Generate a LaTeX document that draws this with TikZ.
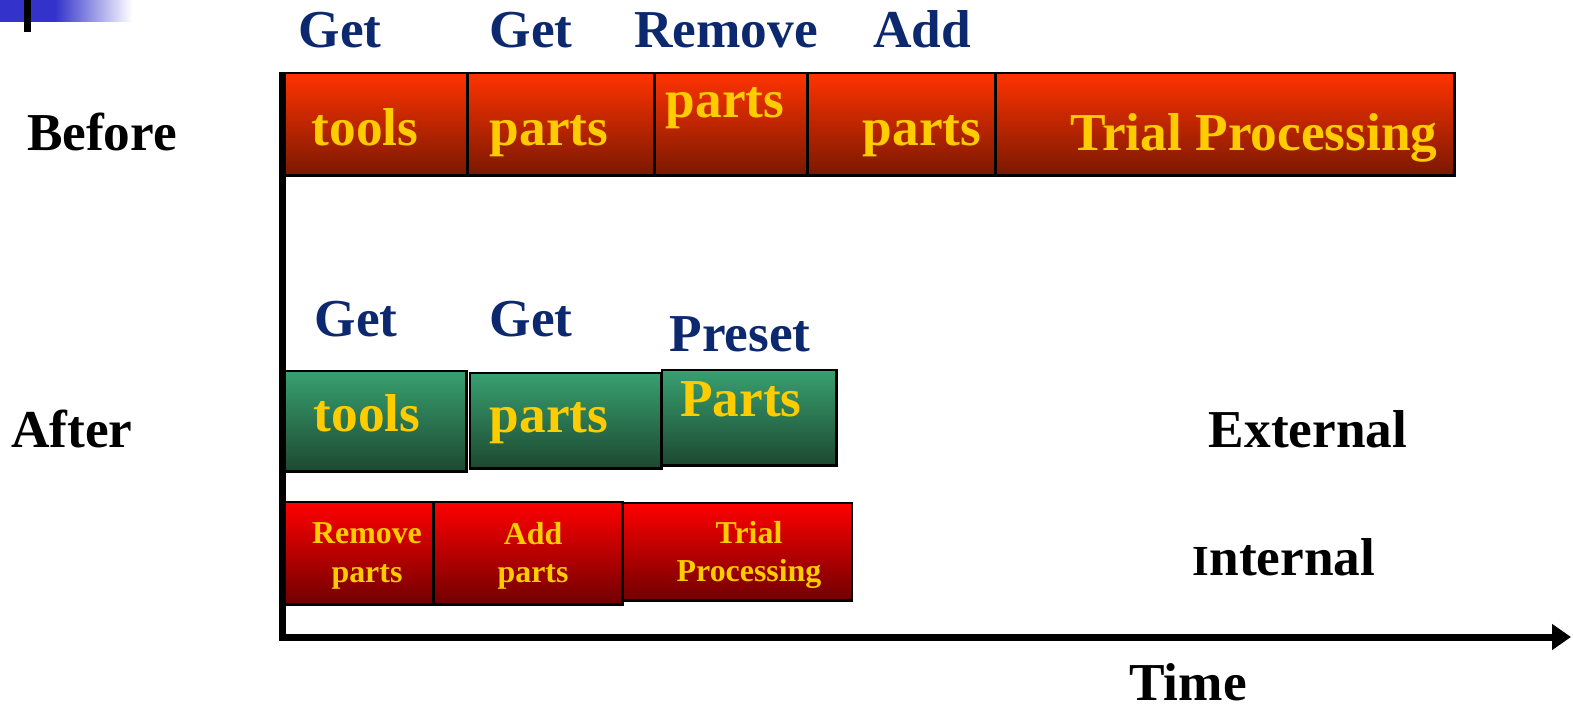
\documentclass[tikz,border=0pt]{standalone}
\usepackage{fontspec}
\setmainfont{Liberation Serif}
\usetikzlibrary{arrows.meta}
\definecolor{navy}{RGB}{12,40,110}
\definecolor{gold}{RGB}{255,204,0}
\definecolor{otop}{RGB}{255,51,0}
\definecolor{obot}{RGB}{122,24,0}
\definecolor{gtop}{RGB}{56,160,112}
\definecolor{gbot}{RGB}{28,72,48}
\definecolor{rtop}{RGB}{255,0,0}
\definecolor{rbot}{RGB}{112,0,0}
\definecolor{deco}{RGB}{51,51,204}
\tikzset{
  bar/.style={draw=black, line width=2.5bp, anchor=north west, inner sep=0pt, outer sep=0pt},
  before/.style={bar, top color=otop, bottom color=obot},
  extbox/.style={bar, top color=gtop, bottom color=gbot},
  intbox/.style={bar, top color=rtop, bottom color=rbot},
  big/.style={font=\fontsize{53.5}{53.5}\selectfont\bfseries, inner sep=0pt, anchor=base},
  small/.style={font=\fontsize{32}{38.5}\selectfont\bfseries, inner sep=0pt, align=center, text=gold},
  toplabel/.style={big, text=navy},
  intext/.style={big, text=gold},
  rowlabel/.style={big, text=black},
}
\newcommand{\boxat}[6]{\node[#1, minimum width=#4-#2, minimum height=#5-#3] (#6) at (#2,#3) {};}
\begin{document}
\begin{tikzpicture}[x=1bp,y=-1bp]
\useasboundingbox (0,0) rectangle (1573,709);
% decoration top-left
\fill[deco] (0,0) rectangle (56,22);
\shade[left color=deco, right color=white] (55,0) rectangle (132,22);
\fill[black] (24,0) rectangle (31,32);
% Before row
\boxat{before}{280}{73}{468}{176}{b1}
\boxat{before}{468}{73}{655}{176}{b2}
\boxat{before}{655}{73}{808}{176}{b3}
\boxat{before}{808}{73}{996}{176}{b4}
\boxat{before}{996}{73}{1456}{176}{b5}
\node[intext] (tb1) at (365,146) {tools};
\node[intext] (tb2) at (549,146) {parts};
\node[intext] (tb3) at (725,118) {parts};
\node[intext] (tb4) at (922,146) {parts};
\node[intext] (tb5) at (1254,151) {Trial Processing};
\node[toplabel] (lb1) at (340,48) {Get};
\node[toplabel] (lb2) at (531,48) {Get};
\node[toplabel] (lb3) at (726,48) {Remove};
\node[toplabel] (lb4) at (922,48) {Add};
\node[rowlabel] (before) at (102,151) {Before};
% After external
\boxat{extbox}{280}{371}{467}{472}{g1}
\boxat{extbox}{470}{373}{662}{469}{g2}
\boxat{extbox}{662}{370}{837}{466}{g3}
\node[intext] (tg1) at (367,431) {tools};
\node[intext] (tg2) at (549,432) {parts};
\node[intext] (tg3) at (741,416) {Parts};
\node[toplabel] (lg1) at (356,336) {Get};
\node[toplabel] (lg2) at (531,336) {Get};
\node[toplabel] (lg3) at (740,351) {Preset};
% After internal
\boxat{intbox}{282}{502}{434}{605}{r1}
\boxat{intbox}{434}{502}{623}{605}{r2}
\boxat{intbox}{623}{503}{853}{601}{r3}
\node[small] (tr1) at (367,556) {Remove\\parts};
\node[small] (tr2) at (533,556) {Add\\parts};
\node[small] (tr3) at (749,555) {Trial\\Processing};
\node[rowlabel] (after) at (72,447) {After};
\node[rowlabel] (ext) at (1308,447) {External};
\node[rowlabel] (int) at (1284,575) {{\fontsize{43}{43}\selectfont I}nternal};
\node[rowlabel] (time) at (1188,700) {Time};
% axes
\coordinate (axtop) at (282,73);
\coordinate (axorig) at (282,637);
\coordinate (axend) at (1571,637);
\draw[line width=7bp, line join=miter, -{Triangle[length=19bp,width=25bp]}] (axtop) -- (axorig) -- (axend);
\end{tikzpicture}
\end{document}
